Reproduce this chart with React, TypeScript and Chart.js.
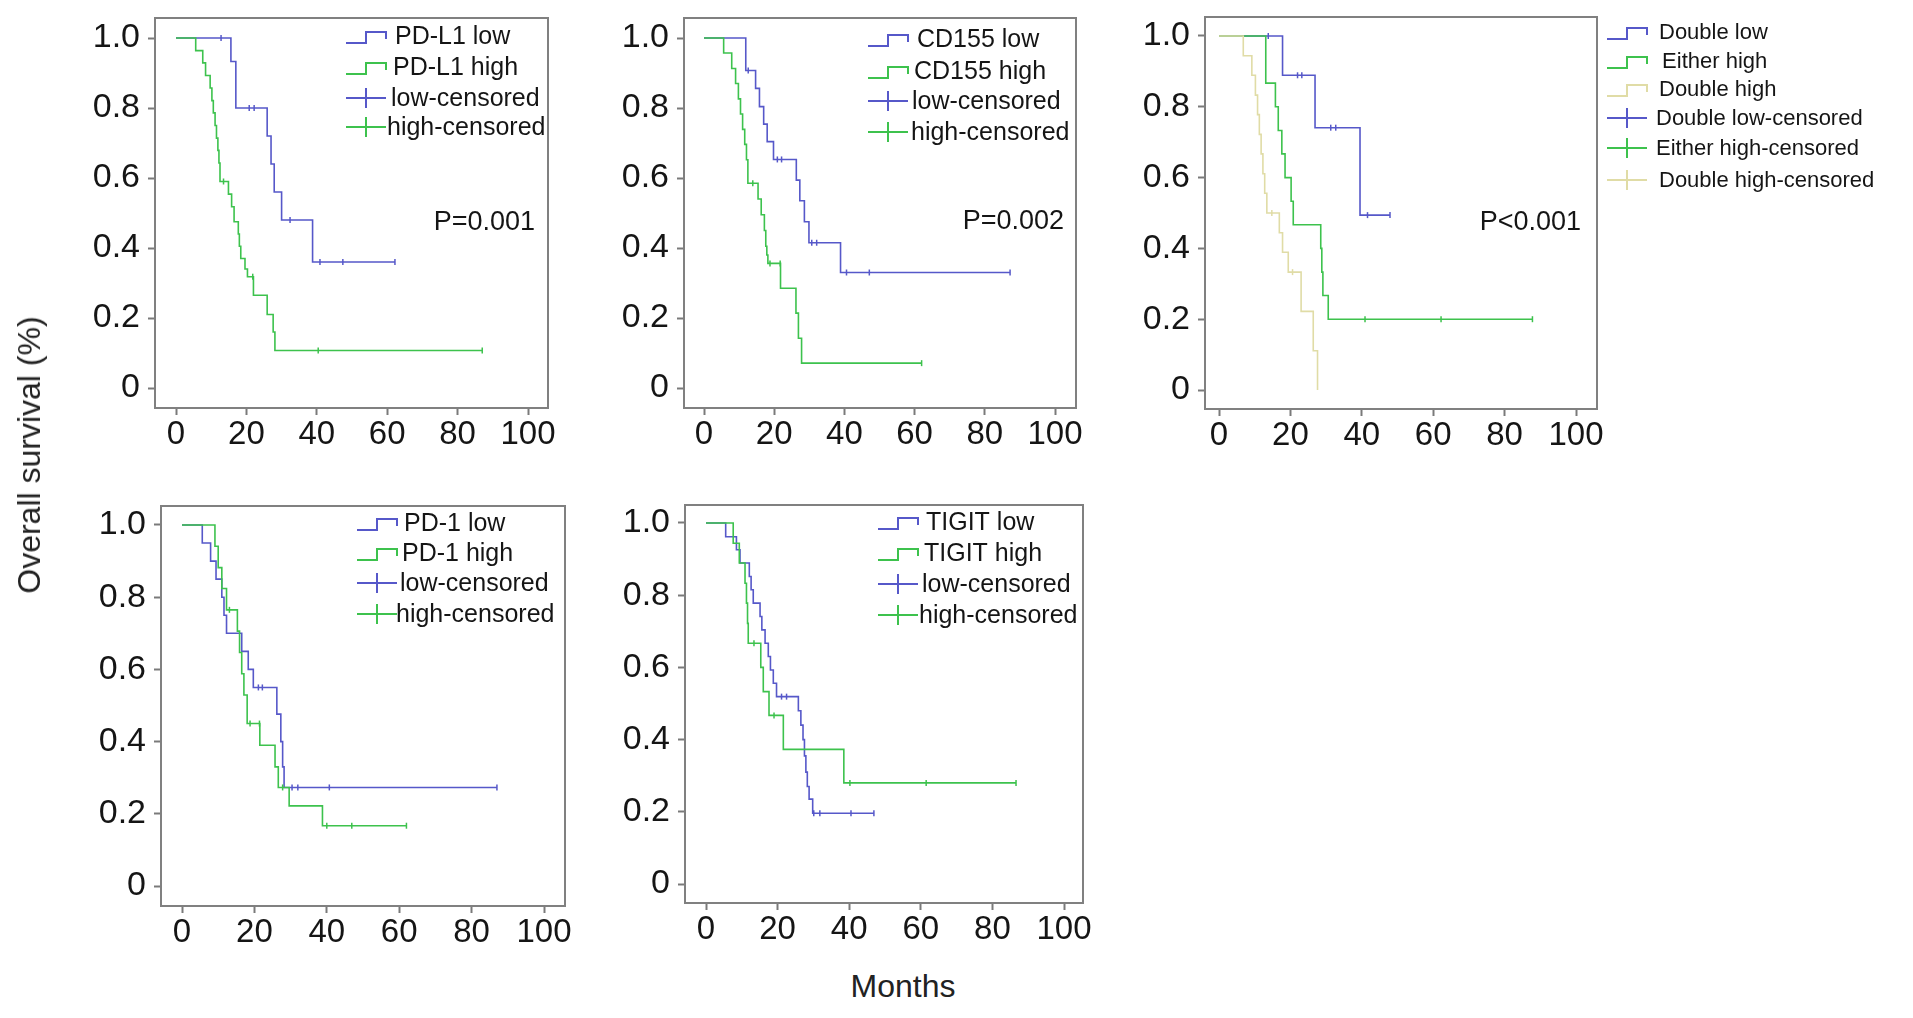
import React, { useEffect, useRef } from 'react';
import { Chart, registerables } from 'chart.js';

Chart.register(...registerables);

const FONT = "'Liberation Sans', Arial, Helvetica, sans-serif";
Chart.defaults.font.family = FONT;

// ---- axis ticks ----
const xTickValues = [0, 20, 40, 60, 80, 100];
const yTickValues = [0, 0.2, 0.4, 0.6, 0.8, 1.0];
const yTickLabels = ['0', '0.2', '0.4', '0.6', '0.8', '1.0'];

// ---- Panel 1: PD-L1 ----
const pdl1Legend = ['PD-L1 low', 'PD-L1 high', 'low-censored', 'high-censored'];
const pdl1LowTimes = [0, 15.6, 17.0, 25.9, 27.0, 27.9, 30.0, 38.8];
const pdl1LowSurv = [1, 0.933, 0.8, 0.72, 0.64, 0.56, 0.48, 0.36];
const pdl1LowCensored = [12.8, 20.8, 22.2, 32.4, 40.9, 47.4, 62.2];
const pdl1HighTimes = [0, 5.6, 7.6, 8.4, 9.7, 10.2, 10.6, 11.1, 11.5, 11.9, 12.2, 12.5, 14.9, 15.8, 16.5, 17.7, 18.0, 18.4, 19.6, 20.3, 22.0, 25.9, 27.6, 28.1];
const pdl1HighSurv = [1, 0.964, 0.929, 0.893, 0.857, 0.821, 0.786, 0.75, 0.714, 0.679, 0.643, 0.59, 0.554, 0.518, 0.475, 0.44, 0.405, 0.37, 0.34, 0.318, 0.265, 0.21, 0.16, 0.107];
const pdl1HighCensored = [13.5, 21.8, 40.4, 87];
const pdl1P = 'P=0.001';

// ---- Panel 2: CD155 ----
const cd155Legend = ['CD155 low', 'CD155 high', 'low-censored', 'high-censored'];
const cd155LowTimes = [0, 11.9, 14.7, 15.8, 17.0, 18.0, 19.8, 26.3, 27.3, 28.6, 29.9, 38.9];
const cd155LowSurv = [1, 0.907, 0.856, 0.804, 0.754, 0.704, 0.653, 0.594, 0.535, 0.475, 0.415, 0.33];
const cd155LowCensored = [12.6, 20.9, 22.1, 30.7, 32.1, 40.6, 47.1, 87.2];
const cd155HighTimes = [0, 5.6, 7.9, 9.0, 9.8, 10.4, 11.0, 11.6, 12.1, 12.5, 15.4, 16.3, 17.2, 17.6, 17.9, 18.2, 21.8, 26.2, 26.9, 27.8];
const cd155HighSurv = [1, 0.957, 0.913, 0.87, 0.826, 0.783, 0.739, 0.696, 0.652, 0.585, 0.54, 0.495, 0.45, 0.405, 0.38, 0.356, 0.285, 0.214, 0.142, 0.071];
const cd155HighCensored = [13.9, 18.8, 21.7, 62];
const cd155P = 'P=0.002';

// ---- Panel 3: combined ----
const comboLegend = ['Double low', ' Either high', 'Double high', 'Double low-censored', 'Either high-censored', 'Double high-censored'];
const doubleLowTimes = [0, 17.8, 26.9, 39.5];
const doubleLowSurv = [1, 0.889, 0.741, 0.494];
const doubleLowCensored = [13.8, 22.0, 23.2, 31.3, 32.7, 41.6, 47.9];
const eitherHighTimes = [0, 13.1, 15.8, 16.6, 17.6, 18.5, 20.2, 20.8, 28.5, 28.8, 29.1, 30.6];
const eitherHighSurv = [1, 0.867, 0.8, 0.733, 0.667, 0.6, 0.533, 0.467, 0.4, 0.333, 0.267, 0.2];
const eitherHighCensored = [40.9, 62.2, 87.8];
const doubleHighTimes = [0, 6.8, 9.2, 10.2, 10.8, 11.3, 11.8, 12.3, 12.8, 13.4, 16.9, 17.8, 19.4, 23.0, 26.4, 27.6];
const doubleHighSurv = [1, 0.944, 0.889, 0.833, 0.778, 0.722, 0.667, 0.611, 0.556, 0.5, 0.444, 0.389, 0.333, 0.222, 0.111, 0];
const doubleHighCensored = [14.8, 20.6];
const comboP = 'P<0.001';

// ---- Panel 4: PD-1 ----
const pd1Legend = ['PD-1 low', 'PD-1 high', 'low-censored', 'high-censored'];
const pd1LowTimes = [0, 5.6, 7.9, 9.4, 11.0, 11.6, 12.3, 16.5, 18.3, 19.7, 26.2, 27.3, 27.8, 28.2];
const pd1LowSurv = [1, 0.95, 0.9, 0.85, 0.8, 0.75, 0.7, 0.65, 0.6, 0.55, 0.476, 0.4, 0.33, 0.273];
const pd1LowCensored = [21.1, 22.2, 30.4, 32.0, 40.7, 87];
const pd1HighTimes = [0, 9.1, 10.0, 11.0, 12.3, 15.3, 15.9, 16.5, 17.1, 18.0, 21.5, 25.7, 26.6, 29.6, 38.8];
const pd1HighSurv = [1, 0.941, 0.882, 0.824, 0.765, 0.706, 0.647, 0.588, 0.529, 0.45, 0.39, 0.33, 0.273, 0.222, 0.167];
const pd1HighCensored = [13.1, 18.8, 21.4, 27.8, 40.0, 46.9, 62];

// ---- Panel 5: TIGIT ----
const tigitLegend = ['TIGIT low', 'TIGIT high', 'low-censored', 'high-censored'];
const tigitLowTimes = [0, 5.5, 8.5, 9.5, 12.1, 12.6, 13.2, 15.1, 15.6, 16.5, 17.4, 18.0, 18.8, 19.7, 25.8, 26.5, 27.1, 27.5, 27.9, 28.3, 28.8, 29.8];
const tigitLowSurv = [1, 0.962, 0.926, 0.889, 0.852, 0.815, 0.778, 0.741, 0.704, 0.667, 0.63, 0.593, 0.556, 0.519, 0.48, 0.44, 0.4, 0.355, 0.31, 0.27, 0.235, 0.196];
const tigitLowCensored = [21.1, 22.5, 30.1, 31.8, 40.5, 46.9];
const tigitHighTimes = [0, 7.6, 9.3, 10.9, 11.3, 11.6, 11.8, 15.3, 16.0, 17.6, 21.6, 38.5];
const tigitHighSurv = [1, 0.944, 0.889, 0.833, 0.778, 0.722, 0.667, 0.6, 0.533, 0.467, 0.373, 0.28];
const tigitHighCensored = [13.4, 19.0, 40.2, 61.5, 86.6];

const yTitle = 'Overall survival (%)';
const xTitle = 'Months';

const BLUE = '#5658c9';
const GREEN = '#3dc24d';
const BEIGE = '#e0dca6';
const TEXT = '#151515';

type Curve = { color: string; times: number[]; surv: number[]; cens: number[]; order: number };
type LegendItem = { text: string; color: string; kind: 'step' | 'cens' };
type PanelDef = {
  frame: { L: number; T: number; R: number; B: number };
  x0: number; x100: number; y1: number; y0: number;
  curves: Curve[];
  legend: LegendItem[];
  legendFont: number;
  iconX: number; textX: number[]; rows: number[];
  pText?: string; pRight?: number; pY?: number;
  padR: number;
};

function survAt(times: number[], surv: number[], t: number) {
  let s = surv[0];
  for (let i = 0; i < times.length; i++) if (times[i] <= t) s = surv[i];
  return s;
}

const decorPlugin = {
  id: 'kmDecor',
  afterDraw(chart: any, _args: any, opts: any) {
    const ctx = chart.ctx as CanvasRenderingContext2D;
    const { left, top, right, bottom } = chart.chartArea;
    ctx.save();
    ctx.strokeStyle = '#808080';
    ctx.lineWidth = 2;
    ctx.strokeRect(left, top, right - left, bottom - top);
    const ox = opts.ox, oy = opts.oy;
    ctx.font = `${opts.legendFont}px ${FONT}`;
    ctx.textBaseline = 'middle';
    ctx.textAlign = 'left';
    (opts.legend as LegendItem[]).forEach((item, i) => {
      const cy = opts.rows[i] - oy;
      const x0 = opts.iconX - ox;
      ctx.strokeStyle = item.color;
      ctx.lineWidth = 2;
      ctx.beginPath();
      if (item.kind === 'step') {
        ctx.moveTo(x0, cy + 7);
        ctx.lineTo(x0 + 20, cy + 7);
        ctx.lineTo(x0 + 20, cy - 4);
        ctx.lineTo(x0 + 40, cy - 4);
        ctx.lineTo(x0 + 40, cy + 3);
      } else {
        ctx.moveTo(x0, cy);
        ctx.lineTo(x0 + 40, cy);
        ctx.moveTo(x0 + 20, cy - 10);
        ctx.lineTo(x0 + 20, cy + 10);
      }
      ctx.stroke();
      ctx.fillStyle = TEXT;
      ctx.fillText(item.text, opts.textX[i] - ox, cy + 1);
    });
    if (opts.pText) {
      ctx.font = `27px ${FONT}`;
      ctx.textAlign = 'right';
      ctx.fillStyle = TEXT;
      ctx.fillText(opts.pText, opts.pRight - ox, opts.pY - oy);
    }
    ctx.restore();
  },
};

const PAD_T = 40;
const AXIS_W = 120;
const AXIS_H = 64;

function KMPanel({ panel }: { panel: PanelDef }) {
  const ref = useRef<HTMLCanvasElement>(null);
  const { L, T, R, B } = panel.frame;
  const cl = L - AXIS_W;
  const ct = T - PAD_T;
  const cw = R - L + AXIS_W + panel.padR;
  const ch = B - T + PAD_T + AXIS_H;

  useEffect(() => {
    if (!ref.current) return;
    const ppx = (panel.x100 - panel.x0) / 100;
    const ppy = panel.y0 - panel.y1;
    const xmin = -(panel.x0 - L) / ppx;
    const xmax = 100 + (R - panel.x100) / ppx;
    const ymin = -(B - panel.y0) / ppy;
    const ymax = 1 + (panel.y1 - T) / ppy;

    const datasets: any[] = [];
    panel.curves.forEach((c) => {
      const pts = c.times.map((t, i) => ({ x: t, y: c.surv[i] }));
      const lastT = c.times[c.times.length - 1];
      const maxC = Math.max(...c.cens);
      if (maxC > lastT) pts.push({ x: maxC, y: c.surv[c.surv.length - 1] });
      datasets.push({
        type: 'line',
        data: pts,
        borderColor: c.color,
        borderWidth: 1.6,
        stepped: true,
        pointRadius: 0,
        fill: false,
        order: c.order + 10,
      });
      datasets.push({
        type: 'line',
        data: c.cens.map((t) => ({ x: t, y: survAt(c.times, c.surv, t) })),
        showLine: false,
        pointStyle: 'line',
        pointRotation: 90,
        pointRadius: 3,
        pointBorderWidth: 1.5,
        pointBorderColor: c.color,
        borderColor: c.color,
        order: c.order,
      });
    });

    const chart = new Chart(ref.current, {
      type: 'line',
      data: { datasets },
      options: {
        animation: false,
        responsive: false,
        events: [],
        layout: { padding: { top: PAD_T, right: panel.padR, left: 0, bottom: 0 } },
        plugins: {
          legend: { display: false },
          tooltip: { enabled: false },
          kmDecor: {
            ox: cl, oy: ct, legendFont: panel.legendFont,
            legend: panel.legend, iconX: panel.iconX, textX: panel.textX, rows: panel.rows,
            pText: panel.pText, pRight: panel.pRight, pY: panel.pY,
          },
        } as any,
        scales: {
          x: {
            type: 'linear',
            min: xmin,
            max: xmax,
            afterBuildTicks: (s: any) => { s.ticks = xTickValues.map((v) => ({ value: v })); },
            afterFit: (s: any) => { s.height = AXIS_H; },
            grid: { display: true, drawOnChartArea: false, drawTicks: true, tickLength: 7, tickColor: '#7a7a7a', tickWidth: 2 },
            border: { display: false },
            ticks: {
              autoSkip: false, maxRotation: 0, minRotation: 0, padding: 0,
              color: TEXT, font: { size: 33, family: FONT },
              callback: (v: any) => String(v),
            },
          },
          y: {
            type: 'linear',
            min: ymin,
            max: ymax,
            afterBuildTicks: (s: any) => { s.ticks = yTickValues.map((v) => ({ value: v })); },
            afterFit: (s: any) => { s.width = AXIS_W; },
            grid: { display: true, drawOnChartArea: false, drawTicks: true, tickLength: 7, tickColor: '#7a7a7a', tickWidth: 2 },
            border: { display: false },
            ticks: {
              autoSkip: false, padding: 8,
              color: TEXT, font: { size: 34, family: FONT },
              callback: (_v: any, i: number) => yTickLabels[i],
            },
          },
        },
      } as any,
      plugins: [decorPlugin],
    });
    return () => chart.destroy();
  }, []);

  return (
    <canvas
      ref={ref}
      width={cw}
      height={ch}
      style={{ position: 'absolute', left: cl, top: ct, width: cw, height: ch }}
    />
  );
}

const stdLegend = (labels: string[]): LegendItem[] => [
  { text: labels[0], color: BLUE, kind: 'step' },
  { text: labels[1], color: GREEN, kind: 'step' },
  { text: labels[2], color: BLUE, kind: 'cens' },
  { text: labels[3], color: GREEN, kind: 'cens' },
];

const panels: PanelDef[] = [
  {
    frame: { L: 155, T: 18, R: 548, B: 408 }, x0: 176, x100: 528, y1: 38, y0: 388,
    curves: [
      { color: BLUE, times: pdl1LowTimes, surv: pdl1LowSurv, cens: pdl1LowCensored, order: 1 },
      { color: GREEN, times: pdl1HighTimes, surv: pdl1HighSurv, cens: pdl1HighCensored, order: 0 },
    ],
    legend: stdLegend(pdl1Legend), legendFont: 25, iconX: 346, textX: [395, 393, 391, 387], rows: [36, 67, 98, 127],
    pText: pdl1P, pRight: 535, pY: 223, padR: 40,
  },
  {
    frame: { L: 684, T: 18, R: 1076, B: 408 }, x0: 704, x100: 1055, y1: 38, y0: 388,
    curves: [
      { color: BLUE, times: cd155LowTimes, surv: cd155LowSurv, cens: cd155LowCensored, order: 1 },
      { color: GREEN, times: cd155HighTimes, surv: cd155HighSurv, cens: cd155HighCensored, order: 0 },
    ],
    legend: stdLegend(cd155Legend), legendFont: 25, iconX: 868, textX: [917, 914, 912, 911], rows: [39, 71, 101, 132],
    pText: cd155P, pRight: 1064, pY: 222, padR: 40,
  },
  {
    frame: { L: 1205, T: 17, R: 1597, B: 409 }, x0: 1219, x100: 1576, y1: 36, y0: 390,
    curves: [
      { color: BLUE, times: doubleLowTimes, surv: doubleLowSurv, cens: doubleLowCensored, order: 2 },
      { color: GREEN, times: eitherHighTimes, surv: eitherHighSurv, cens: eitherHighCensored, order: 1 },
      { color: BEIGE, times: doubleHighTimes, surv: doubleHighSurv, cens: doubleHighCensored, order: 0 },
    ],
    legend: [
      { text: comboLegend[0], color: BLUE, kind: 'step' },
      { text: comboLegend[1], color: GREEN, kind: 'step' },
      { text: comboLegend[2], color: BEIGE, kind: 'step' },
      { text: comboLegend[3], color: BLUE, kind: 'cens' },
      { text: comboLegend[4], color: GREEN, kind: 'cens' },
      { text: comboLegend[5], color: BEIGE, kind: 'cens' },
    ],
    legendFont: 22,
    iconX: 1607, textX: [1659, 1656, 1659, 1656, 1656, 1659], rows: [32, 61, 89, 118, 148, 180],
    pText: comboP, pRight: 1581, pY: 223, padR: 316,
  },
  {
    frame: { L: 161, T: 506, R: 565, B: 906 }, x0: 182, x100: 544, y1: 525, y0: 886,
    curves: [
      { color: BLUE, times: pd1LowTimes, surv: pd1LowSurv, cens: pd1LowCensored, order: 1 },
      { color: GREEN, times: pd1HighTimes, surv: pd1HighSurv, cens: pd1HighCensored, order: 0 },
    ],
    legend: stdLegend(pd1Legend), legendFont: 25, iconX: 357, textX: [404, 402, 400, 396], rows: [523, 553, 583, 614],
    padR: 40,
  },
  {
    frame: { L: 685, T: 505, R: 1083, B: 903 }, x0: 706, x100: 1064, y1: 523, y0: 884,
    curves: [
      { color: BLUE, times: tigitLowTimes, surv: tigitLowSurv, cens: tigitLowCensored, order: 1 },
      { color: GREEN, times: tigitHighTimes, surv: tigitHighSurv, cens: tigitHighCensored, order: 0 },
    ],
    legend: stdLegend(tigitLegend), legendFont: 25, iconX: 878, textX: [926, 924, 922, 919], rows: [522, 553, 584, 615],
    padR: 40,
  },
];

export default function App() {
  return (
    <div style={{ position: 'absolute', left: 0, top: 0, width: 1913, height: 1018, background: '#ffffff', overflow: 'hidden', fontFamily: FONT }}>
      {panels.map((p, i) => <KMPanel key={i} panel={p} />)}
      <div
        style={{
          position: 'absolute', left: 29, top: 455, transform: 'translate(-50%, -50%) rotate(-90deg)',
          whiteSpace: 'nowrap', fontSize: 32, color: '#222', lineHeight: 1,
        }}
      >
        {yTitle}
      </div>
      <div
        style={{
          position: 'absolute', left: 903, top: 986, transform: 'translate(-50%, -50%)',
          whiteSpace: 'nowrap', fontSize: 32, color: '#222', lineHeight: 1,
        }}
      >
        {xTitle}
      </div>
    </div>
  );
}
